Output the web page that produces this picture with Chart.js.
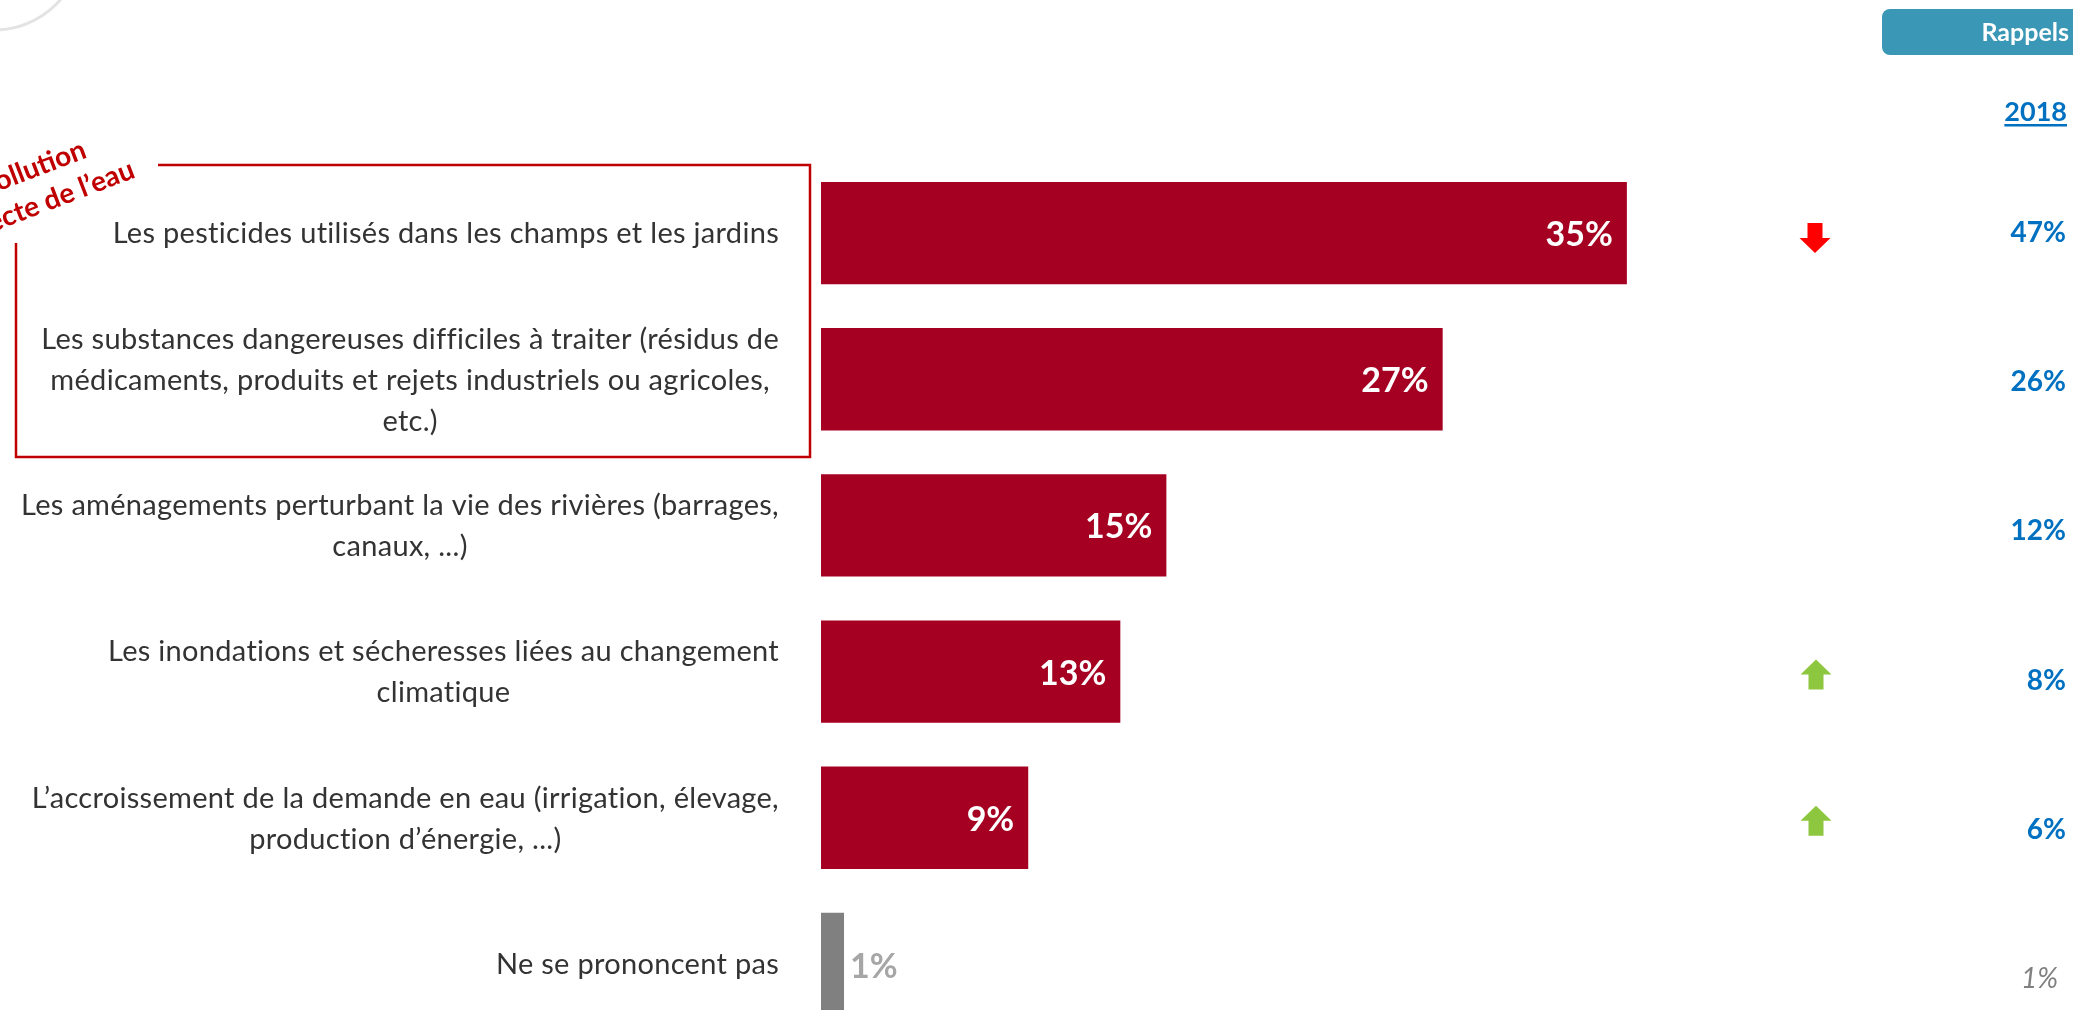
<!DOCTYPE html>
<html lang="fr">
<head>
<meta charset="utf-8">
<title>Pollution de l'eau</title>
<script src="https://cdn.jsdelivr.net/npm/chart.js@4"></script>
<style>
  html, body { margin: 0; padding: 0; background: #fff; overflow: hidden; }
  #wrap { position: relative; width: 2073px; height: 1040px; }
</style>
</head>
<body>
<div id="wrap"><canvas id="chart"></canvas></div>
<script>
// Données
const categories = [
  'Les pesticides utilisés dans les champs et les jardins',
  ['Les substances dangereuses difficiles à traiter (résidus de', 'médicaments, produits et rejets industriels ou agricoles,', 'etc.)'],
  ['Les aménagements perturbant la vie des rivières (barrages,', 'canaux, ...)'],
  ['Les inondations et sécheresses liées au changement', 'climatique'],
  ['L\u2019accroissement de la demande en eau (irrigation, élevage,', 'production d\u2019énergie, ...)'],
  'Ne se prononcent pas'
];
const values = [35, 27, 15, 13, 9, 1];
const rappels2018 = [47, 26, 12, 8, 6, 1];
const trends = ['down', '', '', 'up', 'up', ''];

const RED = '#a50021';
const GREY = '#808080';
const BLUE = '#0070c0';
const FONT = 'Lato';

const barColors = values.map((v, i) => i === values.length - 1 ? GREY : RED);

function drawArrow(ctx, x, y, dir, color) {
  // flèche 31 x 30 : tige 15 px, tête 15 px
  const s = dir === 'down' ? 1 : -1;
  ctx.save();
  ctx.fillStyle = color;
  ctx.beginPath();
  ctx.moveTo(x - 7.5, y - 15 * s);
  ctx.lineTo(x + 7.5, y - 15 * s);
  ctx.lineTo(x + 7.5, y);
  ctx.lineTo(x + 15.5, y);
  ctx.lineTo(x, y + 15 * s);
  ctx.lineTo(x - 15.5, y);
  ctx.lineTo(x - 7.5, y);
  ctx.closePath();
  ctx.fill();
  ctx.restore();
}

// libellés : bloc aligné à droite, lignes centrées dans le bloc
const categoryLabels = {
  id: 'categoryLabels',
  afterDraw(chart) {
    const ctx = chart.ctx;
    const yScale = chart.scales.y;
    const right = 779;
    const lineH = 41;
    ctx.save();
    ctx.letterSpacing = '0.3px'; // évite les ligatures « ti » de Lato
    ctx.font = `29px ${FONT}`;
    ctx.fillStyle = '#333';
    ctx.textAlign = 'center';
    ctx.textBaseline = 'middle';
    categories.forEach((label, i) => {
      const lines = Array.isArray(label) ? label : [label];
      const widest = Math.max(...lines.map(l => ctx.measureText(l).width));
      const cx = right - widest / 2;
      const y0 = yScale.getPixelForTick(i) - (lines.length - 1) * lineH / 2;
      lines.forEach((l, k) => ctx.fillText(l, cx, y0 + k * lineH + 1));
    });
    ctx.restore();
  }
};

const decorations = {
  id: 'decorations',
  afterDatasetsDraw(chart) {
    const ctx = chart.ctx;
    const bars = chart.getDatasetMeta(0).data;
    const last = bars.length - 1;

    ctx.save();
    ctx.textBaseline = 'middle';

    // étiquettes de valeur
    bars.forEach((bar, i) => {
      ctx.font = `bold 34px ${FONT}`;
      if (i === last) {
        ctx.fillStyle = '#a6a6a6';
        ctx.textAlign = 'left';
        ctx.fillText(values[i] + '%', bar.x + 6, bar.y + 3);
      } else {
        ctx.fillStyle = '#fff';
        ctx.textAlign = 'right';
        ctx.fillText(values[i] + '%', bar.x - 14, bar.y + 2);
      }
    });

    // évolutions
    bars.forEach((bar, i) => {
      if (trends[i] === 'down') drawArrow(ctx, 1815, bar.y + 5, 'down', '#ff0000');
      if (trends[i] === 'up') drawArrow(ctx, 1816, bar.y + 3, 'up', '#8dc63f');
    });

    // colonne Rappels 2018
    ctx.fillStyle = '#3a97b6';
    ctx.beginPath();
    ctx.roundRect(1882, 9, 220, 46, 8);
    ctx.fill();
    ctx.fillStyle = '#fff';
    ctx.font = `bold 25px ${FONT}`;
    ctx.textAlign = 'right';
    ctx.fillText('Rappels', 2069, 33);

    ctx.fillStyle = BLUE;
    ctx.font = `bold 27px ${FONT}`;
    ctx.fillText('2018', 2067, 112);
    const w2018 = ctx.measureText('2018').width;
    ctx.fillRect(2067 - w2018, 124, w2018, 2.5);

    bars.forEach((bar, i) => {
      if (i === last) {
        ctx.font = `italic 28px ${FONT}`;
        ctx.fillStyle = '#808080';
        ctx.fillText(rappels2018[i] + '%', 2058, bar.y + i * 3);
      } else {
        ctx.font = `bold 28px ${FONT}`;
        ctx.fillStyle = BLUE;
        ctx.fillText(rappels2018[i] + '%', 2066, bar.y + i * 3);
      }
    });

    // encadré « pollution directe de l'eau »
    ctx.strokeStyle = '#c00000';
    ctx.lineWidth = 2.5;
    ctx.beginPath();
    ctx.moveTo(158, 165);
    ctx.lineTo(810, 165);
    ctx.lineTo(810, 457);
    ctx.lineTo(16, 457);
    ctx.lineTo(16, 243);
    ctx.stroke();

    ctx.save();
    ctx.translate(42, 194);
    ctx.rotate(-21 * Math.PI / 180);
    ctx.fillStyle = '#c00000';
    ctx.font = `bold 28px ${FONT}`;
    ctx.textAlign = 'center';
    ctx.textBaseline = 'alphabetic';
    ctx.fillText('Pollution', 0, -18);
    ctx.fillText('directe de l\u2019eau', 0, 18);
    ctx.restore();

    // logo (arc)
    ctx.strokeStyle = '#e3e3e3';
    ctx.lineWidth = 3;
    ctx.beginPath();
    ctx.arc(-6, -58, 88, 0, Math.PI);
    ctx.stroke();

    ctx.restore();
  }
};

new Chart(document.getElementById('chart'), {
  type: 'bar',
  data: {
    labels: categories,
    datasets: [{
      data: values,
      backgroundColor: barColors,
      borderWidth: 0,
      categoryPercentage: 1,
      barPercentage: 0.7
    }]
  },
  options: {
    indexAxis: 'y',
    responsive: true,
    maintainAspectRatio: false,
    animation: false,
    layout: { padding: { left: 0, right: 331, top: 160, bottom: 3 } },
    plugins: {
      legend: { display: false },
      tooltip: { enabled: false }
    },
    scales: {
      x: {
        display: false,
        min: 0,
        max: 40
      },
      y: {
        grid: { display: false },
        border: { display: false },
        afterFit(scale) {
          scale.width = 821;
          scale.paddingTop = 0;
          scale.paddingBottom = 0;
        },
        ticks: { display: false }
      }
    }
  },
  plugins: [categoryLabels, decorations]
});
</script>
</body>
</html>
